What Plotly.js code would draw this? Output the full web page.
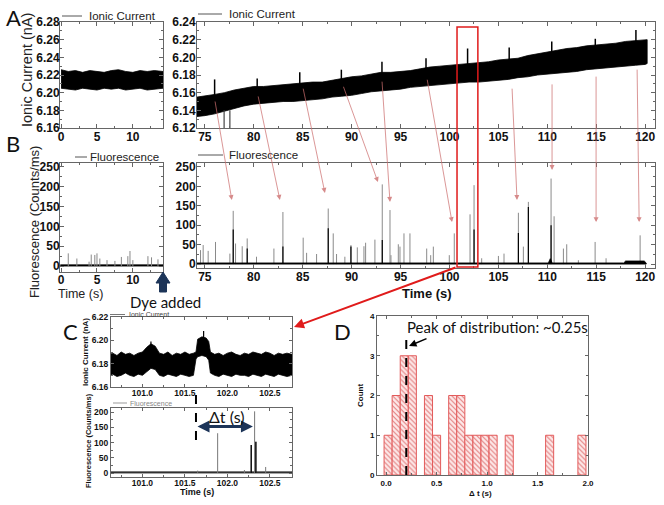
<!DOCTYPE html>
<html><head><meta charset="utf-8">
<script src="https://cdn.plot.ly/plotly-3.0.1.min.js"></script>
<style>html,body{margin:0;padding:0;background:#fff;}#chart{width:664px;height:505px;}</style>
</head><body><div id="chart"></div>
<script>
// ---------- DATA ----------
// Panel A left: ionic current before dye (envelope of noisy trace)
const aLeftTime  = [0,1,2,3,4,5,6,7,8,9,10,11,12,13,14.2];
const aLeftUpper = [6.226,6.224,6.225,6.223,6.225,6.224,6.223,6.225,6.226,6.224,6.223,6.225,6.224,6.225,6.224];
const aLeftLower = [6.205,6.204,6.203,6.205,6.204,6.203,6.205,6.204,6.205,6.203,6.204,6.205,6.203,6.204,6.205];

// Panel A right: ionic current after dye (envelope)
const aRightTime  = [74.2,75,76,77,78,79,80,81,82,83,84,85,86,87,88,89,90,91,92,93,94,95,96,97,98,99,100,101,102,103,104,105,106,107,108,109,110,111,112,113,114,115,116,117,118,119,120,120.2];
const aRightUpper = [6.155,6.156,6.158,6.160,6.163,6.165,6.167,6.167,6.168,6.169,6.170,6.171,6.172,6.172,6.174,6.176,6.178,6.179,6.181,6.183,6.183,6.184,6.185,6.187,6.189,6.190,6.191,6.192,6.193,6.194,6.195,6.197,6.198,6.199,6.202,6.204,6.206,6.208,6.210,6.211,6.213,6.214,6.215,6.216,6.218,6.219,6.220,6.220];
const aRightLower = [6.133,6.134,6.136,6.139,6.142,6.145,6.147,6.148,6.149,6.150,6.150,6.151,6.152,6.153,6.155,6.156,6.157,6.159,6.161,6.162,6.163,6.164,6.166,6.167,6.168,6.169,6.170,6.171,6.172,6.172,6.173,6.174,6.175,6.177,6.178,6.180,6.181,6.182,6.183,6.184,6.186,6.187,6.188,6.189,6.190,6.191,6.192,6.193];
// upward current spikes (events)
const aSpikeTime = [76.0,80.35,84.7,88.95,93.1,97.6,101.85,106.1,110.45,114.9,119.05];
const aSpikeLow  = [6.145,6.158,6.161,6.165,6.172,6.177,6.182,6.186,6.193,6.200,6.205];
const aSpikeHigh = [6.175,6.176,6.183,6.186,6.195,6.199,6.210,6.211,6.218,6.221,6.231];
// downward dips
const aDipTime = [76.97,77.56];
const aDipLow  = [6.120,6.120];
const aDipHigh = [6.140,6.140];

// Panel B left: fluorescence before dye
const bLeftBaseTime  = [-0.1,14.2];
const bLeftBaseUpper = [3,3];
const bLeftBaseLower = [0,0];
const bLeftSpikeTime   = [1.0,2.2,3.9,4.2,4.7,5.0,5.4,6.4,7.5,8.4,9.3,9.6,10.0,12.1,12.6,13.5];
const bLeftSpikeHeight = [32,19,11,29,28,32,19,15,13,23,25,38,15,25,22,17];

// Panel B right: fluorescence after dye
const bRightBaseTime  = [74.2,110.1,110.3,110.5,117.8,118.0,119.9,120.1];
const bRightBaseUpper = [3,3,14,3,3,8,8,3];
const bRightBaseLower = [0,0,0,0,0,0,0,0];
const bRightSpikeTime   = [74.56,74.83,75.34,76.09,77.56,77.9,78.14,78.82,79.33,80.28,82.06,82.98,85.05,85.4,86.42,87.61,88.12,88.46,89.31,89.93,90.58,91.26,91.43,92.38,93.13,93.92,94.02,94.77,94.94,95.35,95.96,97.67,98.08,98.35,99.98,100.49,102.1,102.51,103.29,105.0,105.57,107.04,107.55,108.06,110.38,110.69,111.64,111.98,113.17,114.88,116.0,119.48];
const bRightSpikeHeight = [36,49,34,57,27,137,53,46,66,19,40,134,68,29,26,143,79,26,19,49,43,46,55,63,205,139,23,51,45,79,79,40,23,45,23,79,128,203,15,21,27,132,45,160,220,123,40,51,10,57,15,74];
const bRightCoreTime   = [77.9,79.33,82.98,87.61,89.93,93.13,102.51,107.04,108.06,110.38];
const bRightCoreHeight = [89,40,45,92,45,62,89,80,147,100];
// event arrows: tail (in the current trace) -> head (over the fluorescence peak), B-right data units
const evTailTime = [76.02,80.42,85.02,89.11,93.10,97.70,106.39,110.48,114.98,119.17];
const evTailY    = [422,435,455,460,473,478,455,466,486,504];
const evHeadTime = [77.76,82.67,87.27,92.69,93.92,100.26,106.90,110.48,114.98,119.38];
const evHeadY    = [165,165,183,211,160,108,165,242,108,108];

// Panel C: zoomed window
const zoomBox = [100.77, 102.9];
const cTime  = [100.62,100.65,100.70,100.75,100.80,100.85,100.90,100.95,101.00,101.05,101.10,101.15,101.20,101.25,101.30,101.35,101.40,101.45,101.50,101.55,101.60,101.63,101.65,101.70,101.75,101.78,101.80,101.85,101.90,101.95,102.00,102.05,102.10,102.15,102.20,102.25,102.30,102.35,102.40,102.45,102.50,102.55,102.60,102.65,102.70,102.76];
const cUpper = [6.188,6.189,6.187,6.190,6.188,6.189,6.187,6.189,6.190,6.194,6.197,6.195,6.189,6.188,6.190,6.187,6.189,6.188,6.190,6.188,6.189,6.190,6.201,6.203,6.202,6.199,6.190,6.188,6.189,6.187,6.189,6.190,6.188,6.187,6.189,6.188,6.190,6.189,6.188,6.190,6.189,6.187,6.189,6.188,6.189,6.188];
const cLower = [6.170,6.171,6.169,6.170,6.172,6.170,6.169,6.171,6.170,6.173,6.176,6.175,6.170,6.169,6.171,6.170,6.169,6.171,6.170,6.169,6.170,6.184,6.186,6.187,6.186,6.183,6.172,6.170,6.169,6.171,6.170,6.169,6.171,6.170,6.170,6.169,6.171,6.170,6.169,6.171,6.170,6.169,6.171,6.170,6.169,6.170];
const cSpikeTime = [101.10,101.72];
const cSpikeLow  = [6.190,6.200];
const cSpikeHigh = [6.199,6.208];
const cFluoBaseTime  = [100.63,102.76];
const cFluoBaseUpper = [4,4];
const cFluoBaseLower = [0,0];
const cFluoSpikeTime   = [101.65,101.885,102.20,102.28,102.32,102.335,102.45];
const cFluoSpikeHeight = [8,131,10,92,203,103,20];
const cFluoCoreTime    = [102.28,102.335];
const cFluoCoreHeight  = [92,103];
const dtStart = 101.63, dtEnd = 102.30, dtArrowY = 153;

// Panel D: histogram of delay times
const dtCenters = [0.02,0.10,0.18,0.26,0.42,0.50,0.66,0.74,0.82,0.90,0.98,1.06,1.22,1.62,1.94];
const dtCounts  = [1,2,3,3,2,1,2,2,1,1,1,1,1,1,1];
const binWidth = 0.08;
const peakDt = 0.2, peakLineTop = 3.48;

// ---------- HELPERS ----------
const W = 664, H = 505;
const px = x => x / W;
const py = y => 1 - y / H;
function band(t, up, lo, xa, ya, color) {
  return {x: t.concat(t.slice().reverse()), y: up.concat(lo.slice().reverse()),
    xaxis: xa, yaxis: ya, type: 'scatter', mode: 'lines', fill: 'toself',
    fillcolor: color || '#000', line: {color: color || '#000', width: 0.8}, hoverinfo: 'skip'};
}
function segs(t, lo, hi, xa, ya, color, w) {
  const x = [], y = [];
  t.forEach((v, i) => { x.push(v, v, null); y.push(Array.isArray(lo) ? lo[i] : lo, hi[i], null); });
  return {x, y, xaxis: xa, yaxis: ya, type: 'scatter', mode: 'lines', line: {color, width: w}, hoverinfo: 'skip', connectgaps: false};
}
const TF = {family: 'Liberation Sans, Arial, sans-serif', color: '#111', weight: 'bold'};
function axis(o) {
  const fs = o.fs || 12; delete o.fs;
  const md = o.md; delete o.md;
  return Object.assign({showline: true, mirror: 'allticks', linecolor: '#666', linewidth: 1,
    ticks: 'inside', ticklen: 4, tickcolor: '#666', showgrid: false, zeroline: false,
    tickfont: Object.assign({size: fs}, TF), fixedrange: true,
    minor: {ticks: 'inside', ticklen: 2, tickcolor: '#666', dtick: md, showgrid: false}}, o);
}

// ---------- TRACES ----------
const traces = [
  band(aLeftTime, aLeftUpper, aLeftLower, 'x', 'y'),
  band(aRightTime, aRightUpper, aRightLower, 'x2', 'y2'),
  segs(aSpikeTime, aSpikeLow, aSpikeHigh, 'x2', 'y2', '#000', 1.5),
  segs(aDipTime, aDipLow, aDipHigh, 'x2', 'y2', '#444', 1.2),
  band(bLeftBaseTime, bLeftBaseUpper, bLeftBaseLower, 'x3', 'y3'),
  segs(bLeftSpikeTime, 0, bLeftSpikeHeight, 'x3', 'y3', '#888', 1),
  segs(bRightSpikeTime, 0, bRightSpikeHeight, 'x4', 'y4', '#8a8a8a', 1),
  segs(bRightCoreTime, 0, bRightCoreHeight, 'x4', 'y4', '#000', 1.2),
  band(bRightBaseTime, bRightBaseUpper, bRightBaseLower, 'x4', 'y4'),
  band(cTime, cUpper, cLower, 'x5', 'y5'),
  segs(cSpikeTime, cSpikeLow, cSpikeHigh, 'x5', 'y5', '#000', 1.2),
  band(cFluoBaseTime, cFluoBaseUpper, cFluoBaseLower, 'x6', 'y6', '#333'),
  segs(cFluoSpikeTime, 0, cFluoSpikeHeight, 'x6', 'y6', '#777', 1),
  segs(cFluoCoreTime, 0, cFluoCoreHeight, 'x6', 'y6', '#000', 1.3),
  {type: 'bar', x: dtCenters, y: dtCounts, width: binWidth, xaxis: 'x7', yaxis: 'y7',
   marker: {color: '#fde3e3', line: {color: '#e35b5b', width: 1},
     pattern: {shape: '\\', fgcolor: '#e27a7a', bgcolor: '#fdeaea', size: 3.5, solidity: 0.3}},
   hoverinfo: 'skip'}
];

// ---------- LAYOUT ----------
const layout = {
  width: W, height: H, margin: {l: 0, r: 0, t: 0, b: 0},
  paper_bgcolor: '#fff', plot_bgcolor: 'rgba(0,0,0,0)', showlegend: false,
  font: {family: 'Liberation Sans, Arial, sans-serif', color: '#111'},
  xaxis:  axis({domain: [px(60), px(163)], anchor: 'y', range: [-0.15, 14.2], dtick: 5, tick0: 0, md: 2.5, ticklabelstandoff: -2}),
  yaxis:  axis({domain: [py(128), py(22)], anchor: 'x', range: [6.16, 6.28], dtick: 0.02, tick0: 6.16, tickformat: '.2f', md: 0.01, ticklabelstandoff: -3}),
  xaxis2: axis({domain: [px(197), px(655)], anchor: 'y2', range: [74.2, 121], dtick: 5, tick0: 0, md: 2.5, ticklabelstandoff: -2}),
  yaxis2: axis({domain: [py(128), py(22)], anchor: 'x2', range: [6.12, 6.24], dtick: 0.02, tick0: 6.12, tickformat: '.2f', md: 0.01, ticklabelstandoff: -2}),
  xaxis3: axis({domain: [px(60), px(163)], anchor: 'y3', range: [-0.15, 14.2], dtick: 5, tick0: 0, md: 2.5, ticklabelstandoff: -3}),
  yaxis3: axis({domain: [py(272), py(163)], anchor: 'x3', range: [-15, 260], dtick: 50, tick0: 0, md: 25, ticklabelstandoff: -3}),
  xaxis4: axis({domain: [px(197), px(655)], anchor: 'y4', range: [74.2, 121], dtick: 5, tick0: 0, md: 2.5, ticklabelstandoff: -2}),
  yaxis4: axis({domain: [py(268), py(163)], anchor: 'x4', range: [-10, 260], dtick: 50, tick0: 0, md: 25, ticklabelstandoff: -2}),
  xaxis5: axis({domain: [px(111), px(292)], anchor: 'y5', range: [100.63, 102.76], dtick: 0.5, tick0: 101, tickformat: '.1f', md: 0.25, fs: 8.5, ticklen: 3, ticklabelstandoff: -2}),
  yaxis5: axis({domain: [py(387), py(317)], anchor: 'x5', range: [6.16, 6.22], dtick: 0.02, tick0: 6.16, tickformat: '.2f', md: 0.01, fs: 8.5, ticklen: 3}),
  xaxis6: axis({domain: [px(111), px(292)], anchor: 'y6', range: [100.63, 102.76], dtick: 0.5, tick0: 101, tickformat: '.1f', md: 0.25, fs: 8.5, ticklen: 3, ticklabelstandoff: -2}),
  yaxis6: axis({domain: [py(477), py(408)], anchor: 'x6', range: [-13, 214], dtick: 50, tick0: 0, md: 25, fs: 8.5, ticklen: 3}),
  xaxis7: axis({domain: [px(377), px(588)], anchor: 'y7', range: [-0.09, 2.0], dtick: 0.5, tick0: 0, tickformat: '.1f', md: 0.25, fs: 8, ticklen: 3}),
  yaxis7: axis({domain: [py(475), py(316)], anchor: 'x7', range: [0, 4], dtick: 1, tick0: 0, md: 0.5, fs: 8, ticklen: 3}),
  shapes: [], annotations: []
};

const S = layout.shapes, A = layout.annotations;
function txt(t, x, y, o) {
  A.push(Object.assign({text: t, x: px(x), y: py(y), xref: 'paper', yref: 'paper', showarrow: false,
    xanchor: 'center', yanchor: 'middle'}, o));
}
function pline(x0, y0, x1, y1, color, w, dash) {
  S.push({type: 'line', xref: 'paper', yref: 'paper', x0: px(x0), y0: py(y0), x1: px(x1), y1: py(y1),
    line: {color, width: w, dash: dash || 'solid'}});
}
const LAT = 'Lato, Open Sans, sans-serif';
const ARI = 'Liberation Sans, Arial, sans-serif';

// panel letters
txt('A', 13, 17, {font: {family: LAT, size: 22, color: '#111'}});
txt('B', 13, 143, {font: {family: LAT, size: 22, color: '#111'}});
txt('C', 70, 331, {font: {family: LAT, size: 22, color: '#111'}});
txt('D', 342, 331, {font: {family: LAT, size: 22, color: '#111'}});

// legends
pline(62, 16, 82, 16, '#555', 1); txt('Ionic Current', 87, 16, {xanchor: 'left', font: {family: ARI, size: 11.5, color: '#222'}});
pline(198, 14, 222, 14, '#555', 1); txt('Ionic Current', 227, 14, {xanchor: 'left', font: {family: ARI, size: 11.5, color: '#222'}});
pline(75, 157, 87, 157, '#555', 1); txt('Fluorescence', 88, 157, {xanchor: 'left', font: {family: ARI, size: 11.5, color: '#222'}});
pline(198, 155, 223, 155, '#555', 1); txt('Fluorescence', 227, 155, {xanchor: 'left', font: {family: ARI, size: 11.5, color: '#222'}});
pline(110, 314.5, 125, 314.5, '#777', 1); txt('Ionic Current', 127, 314.5, {xanchor: 'left', font: {family: ARI, size: 7, color: '#444'}});
pline(113, 403, 127, 403, '#999', 1); txt('Fluorescence', 128, 403, {xanchor: 'left', font: {family: ARI, size: 7, color: '#888'}});

// axis titles
txt('Ionic Current (nA)', 27, 70, {textangle: -90, font: {family: ARI, size: 14.5, color: '#222'}});
txt('Fluorescence (Counts/ms)', 35, 222, {textangle: -90, font: {family: ARI, size: 13, color: '#222'}});
txt('Time (s)', 80, 294, {font: {family: ARI, size: 12.5, color: '#222'}});
txt('Time (s)', 427, 293, {font: {family: ARI, size: 13, color: '#111', weight: 'bold'}});
txt('Ionic Current (nA)', 85, 352, {textangle: -90, font: {family: ARI, size: 8, color: '#111', weight: 'bold'}});
txt('Fluorescence (Counts/ms)', 88, 441, {textangle: -90, font: {family: ARI, size: 7.5, color: '#111', weight: 'bold'}});
txt('Time (s)', 197, 492, {font: {family: ARI, size: 9, color: '#111', weight: 'bold'}});
txt('Count', 360, 396, {textangle: -90, font: {family: ARI, size: 8, color: '#111', weight: 'bold'}});
txt('\u0394 t (s)', 480, 493, {font: {family: ARI, size: 8, color: '#111', weight: 'bold'}});

// Dye added
txt('Dye added', 165, 301.5, {font: {family: LAT, size: 15, color: '#111'}});
(function () {
  const p = [[163, 272], [170, 283], [166.5, 283], [166.5, 292], [159.5, 292], [159.5, 283], [156, 283]];
  S.push({type: 'path', xref: 'paper', yref: 'paper', fillcolor: '#1c3458', line: {color: '#1c3458', width: 1},
    path: 'M ' + p.map(q => px(q[0]) + ',' + py(q[1])).join(' L ') + ' Z'});
})();

// red zoom box and arrow
S.push({type: 'rect', xref: 'x2', yref: 'paper', x0: zoomBox[0], x1: zoomBox[1], y0: py(267), y1: py(27),
  line: {color: '#e01b1b', width: 1.5}, fillcolor: 'rgba(0,0,0,0)'});
A.push({x: px(294), y: py(327), xref: 'paper', yref: 'paper', ax: 457 - 294, ay: 267 - 327, axref: 'pixel', ayref: 'pixel',
  showarrow: true, arrowcolor: '#e01b1b', arrowwidth: 2, arrowhead: 2, arrowsize: 1, text: ''});

// pink event arrows
evHeadTime.forEach((t, i) => {
  A.push({x: t, y: evHeadY[i], xref: 'x4', yref: 'y4', ax: evTailTime[i], ay: evTailY[i], axref: 'x4', ayref: 'y4',
    showarrow: true, arrowcolor: 'rgba(205,110,110,0.8)', arrowwidth: 0.9, arrowhead: 2, arrowsize: 1.1, text: ''});
});

// panel C dashed line and delta-t arrow
S.push({type: 'line', xref: 'x6', yref: 'paper', x0: dtStart, x1: dtStart, y0: py(440), y1: py(387),
  line: {color: '#000', width: 2, dash: 'dash'}});
A.push({x: dtEnd, y: dtArrowY, xref: 'x6', yref: 'y6', ax: dtStart, ay: dtArrowY, axref: 'x6', ayref: 'y6',
  showarrow: true, arrowside: 'end+start', arrowcolor: '#1c3458', arrowwidth: 3, arrowhead: 2, arrowsize: 0.8, text: ''});
txt('\u0394t (s)', 227, 416, {font: {family: LAT, size: 16, color: '#111'}});

// panel D peak line and note
S.push({type: 'line', xref: 'x7', yref: 'y7', x0: peakDt, x1: peakDt, y0: 0, y1: peakLineTop,
  line: {color: '#000', width: 2, dash: 'dash'}});
txt('Peak of distribution: ~0.25s', 405, 327, {xanchor: 'left', font: {family: LAT, size: 15, color: '#111'}});
A.push({x: px(409), y: py(346), xref: 'paper', yref: 'paper', ax: 19, ay: -8, axref: 'pixel', ayref: 'pixel',
  showarrow: true, arrowcolor: '#000', arrowwidth: 1.5, arrowhead: 2, arrowsize: 1, text: ''});

Plotly.newPlot('chart', traces, layout, {staticPlot: true, displayModeBar: false});
</script></body></html>
